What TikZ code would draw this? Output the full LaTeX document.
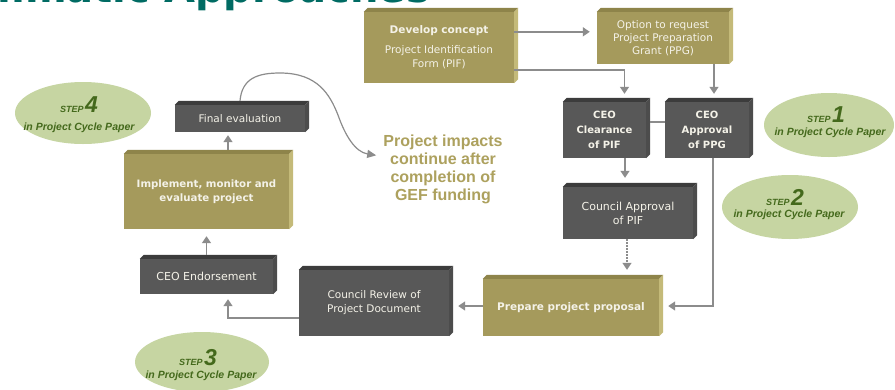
\documentclass[tikz,border=0pt]{standalone}
\usepackage{fontspec}
\setmainfont{DejaVu Sans}
\newfontfamily\arialf{Liberation Sans}
\usetikzlibrary{shapes.geometric,arrows.meta,calc}
\definecolor{boxolive}{HTML}{A59A5C}
\definecolor{olivetop}{HTML}{8E844A}
\definecolor{oliveside}{HTML}{C4BA79}
\definecolor{boxdark}{HTML}{585858}
\definecolor{darktop}{HTML}{3C3C3C}
\definecolor{darkside}{HTML}{4C4C4C}
\definecolor{boxtext}{HTML}{F4F2E8}
\definecolor{arrgray}{HTML}{8C8C8C}
\definecolor{stepfill}{HTML}{C6D5A2}
\definecolor{stepdark}{HTML}{44691C}
\definecolor{impactc}{HTML}{ADA15E}
\definecolor{titleteal}{HTML}{006B63}
\newcommand{\boxfaces}[3]{%
  \fill[#2] (#1.north west) -- ++(4,-4) -- ($(#1.north east)+(4,-4)$) -- (#1.north east) -- cycle;
  \fill[#3] (#1.north east) -- ++(4,-4) -- ($(#1.south east)+(4,-4)$) -- (#1.south east) -- cycle;}
\newcommand{\steptext}[1]{{\fontsize{9}{9}\selectfont STEP}\,{\fontsize{23}{23}\selectfont #1}}
\begin{document}
\begin{tikzpicture}[x=1pt,y=-1pt,
  box/.style={inner sep=0pt, align=center, text=boxtext, font=\fontsize{10.5}{14}\selectfont},
  olivebox/.style={box, fill=boxolive},
  darkbox/.style={box, fill=boxdark},
  arr/.style={draw=arrgray, line width=1.5pt, -{Triangle[length=7pt,width=9pt]}},
  link/.style={draw=arrgray, line width=1.5pt},
  curvearr/.style={draw=arrgray, line width=1.2pt, -{Triangle[length=9pt,width=8pt]}},
  stepell/.style={ellipse, fill=stepfill, inner sep=0pt},
  steptop/.style={anchor=base, inner sep=0pt, text=stepdark, font=\arialf\bfseries\itshape},
  stepbot/.style={anchor=base, inner sep=0pt, text=stepdark, font=\arialf\bfseries\itshape\fontsize{10.5}{12}\selectfont},
  impact/.style={align=center, inner sep=0pt, text=impactc, font=\arialf\bfseries\fontsize{16}{18}\selectfont},
  titletext/.style={anchor=base east, inner sep=0pt, text=titleteal, font=\bfseries\fontsize{40}{40}\selectfont}
]
\useasboundingbox (0,0) rectangle (895,389);
\fill[white] (0,0) rectangle (895,389);
\begin{scope}
  \clip (0,0) rectangle (895,389);
  \node[titletext] (ttl) at (430,2.5) {Programmatic Approaches};
\end{scope}

% ellipses
\node[stepell, minimum width=130pt, minimum height=64pt] (s1) at (829,125) {};
\node[steptop] (s1a) at (826,122) {\steptext{1}};
\node[stepbot] (s1b) at (830,135) {in Project Cycle Paper};
\node[stepell, minimum width=136pt, minimum height=64pt] (s2) at (790,207) {};
\node[steptop] (s2a) at (785,205) {\steptext{2}};
\node[stepbot] (s2b) at (789,217) {in Project Cycle Paper};
\node[stepell, minimum width=136pt, minimum height=62pt] (s4) at (83,113) {};
\node[steptop] (s4a) at (79,112) {\steptext{4}};
\node[stepbot] (s4b) at (79,130) {in Project Cycle Paper};
\node[stepell, minimum width=134pt, minimum height=60pt] (s3) at (202,362) {};
\node[steptop] (s3a) at (198,365) {\steptext{3}};
\node[stepbot] (s3b) at (201,378) {in Project Cycle Paper};

% boxes
\node[olivebox, minimum width=150pt, minimum height=71pt] (dev) at (439,47.5)
  {{\bfseries Develop concept}\\[6pt] Project Identification\\ Form (PIF)};
\boxfaces{dev}{olivetop}{oliveside}
\node[olivebox, minimum width=132pt, minimum height=52pt, font=\fontsize{10.5}{13}\selectfont] (ppg) at (663,38)
  {Option to request\\ Project Preparation\\ Grant (PPG)};
\boxfaces{ppg}{olivetop}{oliveside}
\node[darkbox, minimum width=83pt, minimum height=56pt, font=\bfseries\fontsize{10}{15}\selectfont] (clr) at (604.5,130)
  {CEO\\ Clearance\\ of PIF};
\boxfaces{clr}{darktop}{darkside}
\node[darkbox, minimum width=84pt, minimum height=56pt, font=\bfseries\fontsize{10}{15}\selectfont] (app) at (707,130)
  {CEO\\ Approval\\ of PPG};
\boxfaces{app}{darktop}{darkside}
\node[darkbox, minimum width=130pt, minimum height=52pt, font=\fontsize{11}{14}\selectfont] (cap) at (628,213)
  {Council Approval\\ of PIF};
\boxfaces{cap}{darktop}{darkside}
\node[olivebox, minimum width=176pt, minimum height=57pt, font=\bfseries\fontsize{10.5}{14}\selectfont] (prep) at (571,307.5)
  {Prepare project proposal};
\boxfaces{prep}{olivetop}{oliveside}
\node[darkbox, minimum width=150pt, minimum height=66pt] (crev) at (374,303)
  {Council Review of\\ Project Document};
\boxfaces{crev}{darktop}{darkside}
\node[darkbox, minimum width=133pt, minimum height=35pt, font=\fontsize{11}{14}\selectfont] (endo) at (206.5,276.5)
  {CEO Endorsement};
\boxfaces{endo}{darktop}{darkside}
\node[olivebox, minimum width=165pt, minimum height=75pt, font=\bfseries\fontsize{10.2}{14}\selectfont] (impl) at (206.5,191.5)
  {Implement, monitor and\\ evaluate project};
\boxfaces{impl}{olivetop}{oliveside}
\node[darkbox, minimum width=130pt, minimum height=27pt] (fin) at (240,118.5)
  {Final evaluation};
\boxfaces{fin}{darktop}{darkside}

\node[impact] (imp) at (443,169) {Project impacts\\ continue after\\ completion of\\ GEF funding};

% connectors
\coordinate (d1) at ([yshift=-20pt]dev.north east);
\draw[arr, shorten >=7pt] (d1) -- (d1 -| ppg.west);
\coordinate (d2) at ([yshift=13pt]dev.south east);
\coordinate (c1) at ([xshift=20pt]clr.north);
\draw[arr, shorten >=8pt] (d2) -| (c1);
\coordinate (a1) at ([xshift=7pt]app.north);
\draw[arr, shorten >=8pt] (a1 |- ppg.south) -- (a1);
\coordinate (l1) at ([xshift=4pt,yshift=8pt]clr.east);
\draw[link] (l1) -- (l1 -| app.west);
\coordinate (c2) at ([xshift=20.5pt]clr.south);
\draw[arr, shorten >=9pt] (c2) -- (c2 |- cap.north);
\coordinate (c3) at ([xshift=-1pt]cap.south);
\draw[arr, dash pattern=on 2pt off 1pt, shorten >=9pt] (c3) -- (c3 |- prep.north);
\coordinate (a2) at ([xshift=6pt]app.south);
\coordinate (p1) at ([yshift=1.5pt]prep.east);
\draw[arr, shorten >=9pt] (a2) |- (p1);
\coordinate (p2) at ([yshift=1.5pt]prep.west);
\draw[arr, shorten >=9pt] (p2) -- (p2 -| crev.east);
\coordinate (r1) at ([yshift=-15pt]crev.west);
\coordinate (e1) at ([xshift=21.5pt]endo.south);
\draw[arr, shorten >=5pt] (r1) -| (e1);
\coordinate (e2) at ([yshift=4pt]endo.north);
\draw[arr, shorten >=7pt] (e2) -- (e2 |- impl.south);
\coordinate (i1) at ([xshift=21.5pt,yshift=4pt]impl.north);
\draw[arr, shorten >=3pt] (i1) -- (i1 |- fin.south);
\coordinate (f1) at ([yshift=4pt]fin.north);
\coordinate (t1) at ($(imp.north west)+(-7,21)$);
\draw[curvearr] (f1) .. controls (242,78) and (258,73) .. (280,73)
  .. controls (318,73) and (330,95) .. (338,115)
  .. controls (345,135) and (355,152) .. (t1);
\end{tikzpicture}
\end{document}
